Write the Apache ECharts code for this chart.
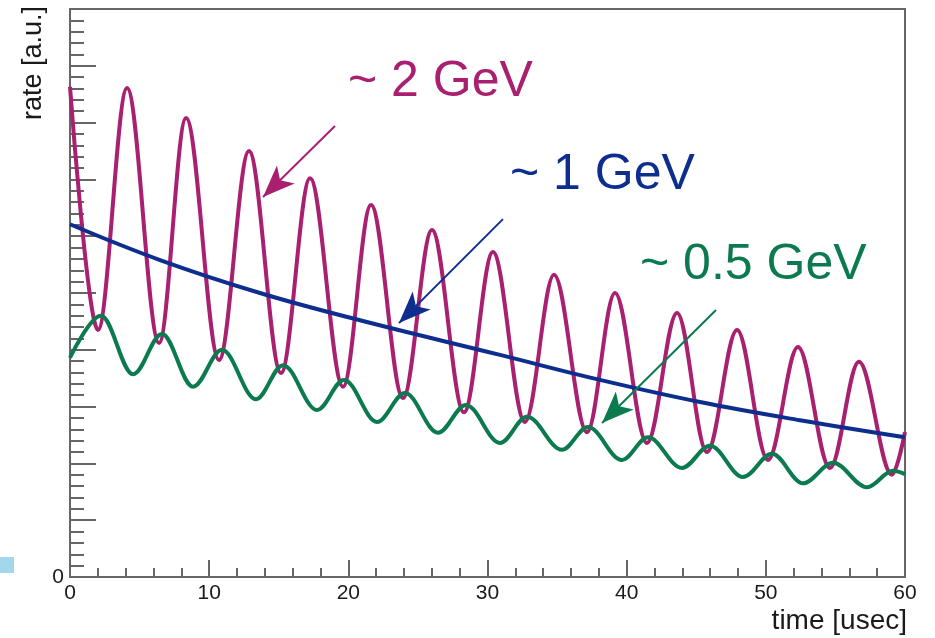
<!DOCTYPE html>
<html>
<head>
<meta charset="utf-8">
<script src="https://cdn.jsdelivr.net/npm/echarts@6/dist/echarts.min.js"></script>
<style>
html,body{margin:0;padding:0;background:#fff;}
#c{width:935px;height:638px;}
</style>
</head>
<body>
<div id="c"></div>
<script>
// ~2 GeV (magenta): times (usec) and rate (a.u.) at peaks / troughs
const time2GeV = [0, 2.01, 4.10, 6.40, 8.34, 10.71, 12.86, 15.16, 17.25, 19.62, 21.63, 23.93, 26.01, 28.31, 30.39, 32.69, 34.78, 37.15, 39.16, 41.46, 43.62, 45.77, 47.93, 50.15, 52.31, 54.61, 56.69, 59.06, 60];
const rate2GeV = [8.63, 4.35, 8.61, 4.12, 8.08, 3.82, 7.50, 3.59, 7.02, 3.35, 6.55, 3.15, 6.11, 2.90, 5.72, 2.73, 5.32, 2.55, 5.00, 2.36, 4.65, 2.20, 4.35, 2.06, 4.05, 1.92, 3.79, 1.80, 2.55];
// ~0.5 GeV (green)
const time05GeV = [0, 2.23, 4.53, 6.61, 8.84, 10.92, 13.36, 15.31, 17.75, 19.69, 22.06, 24.07, 26.44, 28.45, 30.90, 32.84, 35.35, 37.22, 39.66, 41.53, 43.97, 45.99, 48.36, 50.44, 52.67, 54.83, 57.27, 59.14, 60];
const rate05GeV = [3.86, 4.60, 3.57, 4.28, 3.35, 4.00, 3.13, 3.73, 2.94, 3.47, 2.73, 3.24, 2.54, 3.03, 2.36, 2.82, 2.24, 2.64, 2.06, 2.46, 1.92, 2.31, 1.76, 2.17, 1.65, 2.01, 1.58, 1.87, 1.81];
// ~1 GeV (blue)
const time1GeV = [0, 6.47, 13.65, 20.84, 30.9, 38.08, 45.27, 52.45, 60];
const rate1GeV = [6.21, 5.58, 5.00, 4.52, 3.91, 3.47, 3.08, 2.76, 2.46];
// annotation labels and arrow ends (data coords: [time, rate])
const labels = ['~ 2 GeV', '~ 1 GeV', '~ 0.5 GeV'];
const arrow2GeV = [[19.04, 7.94], [13.87, 6.69]];
const arrow1GeV = [[31.11, 6.30], [23.64, 4.47]];
const arrow05GeV = [[46.42, 4.70], [38.23, 2.71]];
const xTicks = [0, 10, 20, 30, 40, 50, 60];

const C2 = '#a8206f', C1 = '#0d2e8e', C05 = '#0b7a4e';
const FONT = '"Liberation Sans", Arial, Helvetica, sans-serif';

function pairs(t, v) { return t.map((x, i) => [x, v[i]]); }
function arrow(ends, color) {
  return {
    silent: true, animation: false,
    symbol: ['none', 'arrow'], symbolSize: [19, 32],
    lineStyle: { color: color, width: 2, type: 'solid' },
    label: { show: false },
    emphasis: { disabled: true },
    data: [[{ coord: ends[0] }, { coord: ends[1] }]]
  };
}

const chart = echarts.init(document.getElementById('c'), null, { renderer: 'canvas' });
const axisGray = '#666';
chart.setOption({
  animation: false,
  backgroundColor: '#fff',
  grid: { left: 70, right: 30, top: 9, bottom: 61, show: true, borderColor: axisGray, borderWidth: 2, backgroundColor: '#fff' },
  xAxis: {
    type: 'value', min: 0, max: 60, interval: 10,
    axisLine: { show: true, onZero: false, lineStyle: { color: axisGray, width: 2 } },
    axisTick: { show: true, inside: true, length: 17, lineStyle: { color: axisGray, width: 2 } },
    minorTick: { show: true, splitNumber: 5, length: 9, lineStyle: { color: axisGray, width: 2 } },
    splitLine: { show: false },
    axisLabel: { color: '#1a1a1a', fontSize: 21, fontFamily: FONT, margin: 6,
      formatter: v => xTicks.indexOf(v) >= 0 ? String(v) : '' }
  },
  yAxis: {
    type: 'value', min: 0, max: 10, interval: 1,
    axisLine: { show: true, onZero: false, lineStyle: { color: axisGray, width: 2 } },
    axisTick: { show: true, inside: true, length: 26, lineStyle: { color: axisGray, width: 2 } },
    minorTick: { show: true, splitNumber: 5, length: 14, lineStyle: { color: axisGray, width: 2 } },
    splitLine: { show: false },
    axisLabel: { color: '#1a1a1a', fontSize: 21, fontFamily: FONT, margin: 6,
      formatter: v => v === 0 ? '0' : '' }
  },
  series: [
    { name: labels[0], type: 'line', data: pairs(time2GeV, rate2GeV), smooth: 0.35, smoothMonotone: 'x', showSymbol: false,
      lineStyle: { color: C2, width: 4 }, itemStyle: { color: C2 }, z: 2, markLine: arrow(arrow2GeV, C2) },
    { name: labels[2], type: 'line', data: pairs(time05GeV, rate05GeV), smooth: 0.35, smoothMonotone: 'x', showSymbol: false,
      lineStyle: { color: C05, width: 4 }, itemStyle: { color: C05 }, z: 3, markLine: arrow(arrow05GeV, C05) },
    { name: labels[1], type: 'line', data: pairs(time1GeV, rate1GeV), smooth: 0.4, showSymbol: false,
      lineStyle: { color: C1, width: 4 }, itemStyle: { color: C1 }, z: 4, markLine: arrow(arrow1GeV, C1) }
  ],
  graphic: [
    { type: 'text', x: 348, y: 82, z: 10, style: { text: labels[0], font: '50px ' + FONT, fill: C2, align: 'left', verticalAlign: 'middle' } },
    { type: 'text', x: 510, y: 175, z: 10, style: { text: labels[1], font: '50px ' + FONT, fill: C1, align: 'left', verticalAlign: 'middle' } },
    { type: 'text', x: 640, y: 265, z: 10, style: { text: labels[2], font: '50px ' + FONT, fill: C05, align: 'left', verticalAlign: 'middle' } },
    { type: 'text', x: 907, y: 621, z: 10, style: { text: 'time [usec]', font: '28px ' + FONT, fill: '#1a1a1a', align: 'right', verticalAlign: 'middle' } },
    { type: 'text', x: 34, y: 6, rotation: Math.PI / 2, z: 10, style: { text: 'rate [a.u.]', font: '27px ' + FONT, fill: '#1a1a1a', align: 'right', verticalAlign: 'middle' } },
    { type: 'rect', shape: { x: 0, y: 557, width: 14, height: 16 }, style: { fill: '#a3d7ea' }, z: 10 }
  ]
});
</script>
</body>
</html>
